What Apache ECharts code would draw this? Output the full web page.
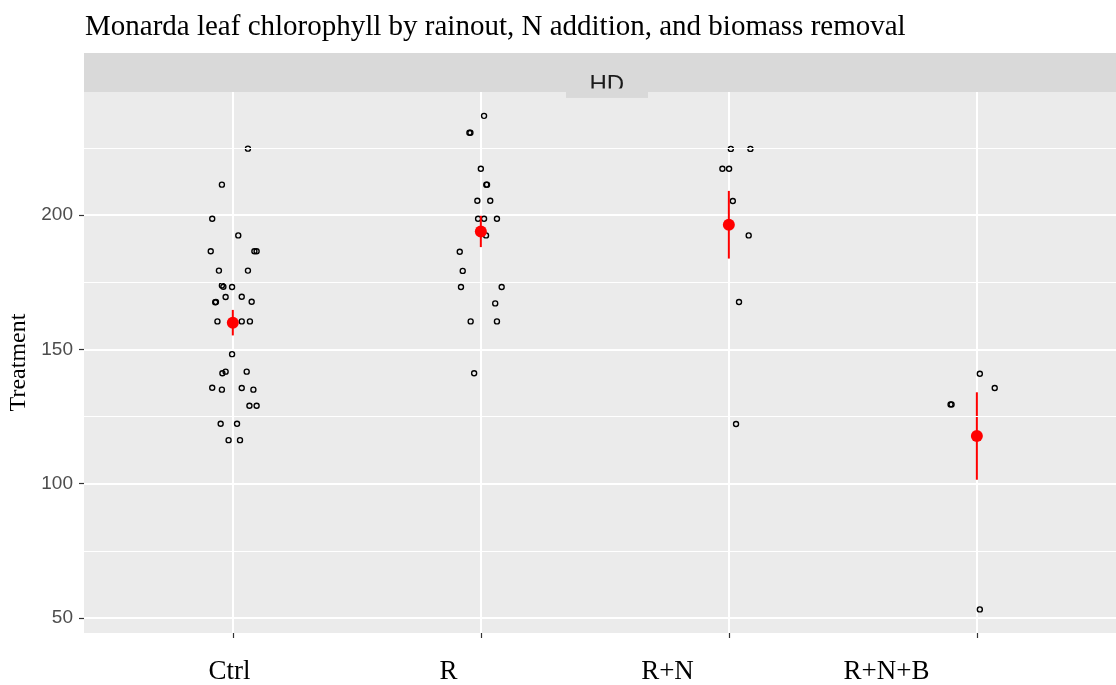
<!DOCTYPE html>
<html>
<head>
<meta charset="utf-8">
<script src="https://cdn.jsdelivr.net/npm/echarts@6/dist/echarts.min.js"></script>
<style>
  html, body { margin: 0; padding: 0; background: #ffffff; }
  #chart { width: 1116px; height: 685px; }
</style>
</head>
<body>
<div id="chart"></div>
<script>
// Treatment groups and axis breaks
const groups = ['Ctrl', 'R', 'R+N', 'R+N+B'];
const facetLabel = 'HD';
const yTicks = [50, 100, 150, 200];
const yMinorBreaks = [75, 125, 175, 225];

// Leaf chlorophyll readings per plant, with the horizontal jitter of each point
const ctrlValues = [224.7, 211.3, 198.6, 192.4, 186.5, 186.5, 186.5, 179.3, 179.3, 173.8, 173.3, 173.2,
  169.5, 169.6, 167.7, 167.5, 167.6, 160.4, 160.4, 160.4, 148.2, 141.1, 141.7, 141.7,
  135.7, 135.0, 135.6, 135.0, 129.0, 129.0, 122.3, 122.3, 116.2, 116.2];
const ctrlJitter = [0.061, -0.044, -0.083, 0.022, -0.089, 0.087, 0.096, -0.056, 0.061, -0.044, -0.038, -0.003,
  -0.029, 0.036, 0.076, -0.071, -0.068, -0.062, 0.036, 0.069, -0.003, -0.042, -0.029, 0.056,
  -0.083, -0.044, 0.036, 0.083, 0.067, 0.096, -0.049, 0.017, -0.017, 0.029];

const rValues = [236.9, 230.6, 230.6, 217.2, 211.3, 211.3, 205.3, 205.3, 198.6, 198.6, 198.6, 192.4,
  186.3, 179.2, 173.2, 173.2, 167.1, 160.4, 160.4, 141.1];
const rJitter = [0.013, -0.046, -0.042, 0.000, 0.022, 0.025, -0.014, 0.038, -0.011, 0.013, 0.065, 0.021,
  -0.085, -0.073, -0.080, 0.084, 0.058, -0.041, 0.065, -0.027];

const rnValues = [224.6, 224.6, 217.2, 217.2, 205.2, 192.4, 167.6, 122.2];
const rnJitter = [0.008, 0.087, -0.026, 0.001, 0.016, 0.080, 0.041, 0.029];

const rnbValues = [140.9, 135.6, 129.5, 129.5, 53.2];
const rnbJitter = [0.012, 0.072, -0.106, -0.102, 0.012];

const groupValues = [ctrlValues, rValues, rnValues, rnbValues];
const groupJitter = [ctrlJitter, rJitter, rnJitter, rnbJitter];

// Scatter points: group position (1..4) plus jitter
const pointData = [];
groupValues.forEach((vals, gi) => {
  vals.forEach((v, k) => pointData.push([gi + 1 + groupJitter[gi][k], v]));
});

// Mean and standard error per group
const summaryData = groupValues.map((vals, gi) => {
  const n = vals.length;
  const mean = vals.reduce((a, b) => a + b, 0) / n;
  const sd = Math.sqrt(vals.reduce((a, b) => a + (b - mean) * (b - mean), 0) / (n - 1));
  return [gi + 1, mean, sd / Math.sqrt(n)];
});

const chart = echarts.init(document.getElementById('chart'), null, { renderer: 'canvas' });

const option = {
  animation: false,
  backgroundColor: '#ffffff',
  title: {
    text: 'Monarda leaf chlorophyll by rainout, N addition, and biomass removal',
    left: 85,
    top: 13,
    padding: 0,
    textStyle: { fontFamily: 'Liberation Serif', fontSize: 29, fontWeight: 'normal', color: '#000000' }
  },
  grid: [
    { left: 84, right: 0, top: 92, bottom: 52, show: true, backgroundColor: '#EBEBEB', borderWidth: 0,
      containLabel: false, outerBoundsMode: 'none' },
    { left: 120, width: 876, top: 92, bottom: 52, show: false, containLabel: false, outerBoundsMode: 'none' }
  ],
  xAxis: [
    {
      type: 'value', gridIndex: 0, min: 0.4, max: 4.561,
      axisLine: { show: false },
      axisTick: { show: true, customValues: groups.map((g, i) => i + 1), length: 5, lineStyle: { color: '#333333', width: 1.2 } },
      axisLabel: { show: false },
      splitLine: { show: true, lineStyle: { color: '#ffffff', width: 2 } }
    },
    {
      type: 'category', gridIndex: 1, data: groups, boundaryGap: true,
      axisLine: { show: false }, axisTick: { show: false }, splitLine: { show: false },
      axisLabel: { fontFamily: 'Liberation Serif', fontSize: 27, color: '#000000', margin: 25 }
    }
  ],
  yAxis: [
    {
      type: 'value', gridIndex: 0, min: 44.42, max: 245.78,
      name: 'Treatment', nameLocation: 'middle', nameGap: 51,
      nameTextStyle: { fontFamily: 'Liberation Serif', fontSize: 24, color: '#000000' },
      axisLine: { show: false },
      axisTick: { show: true, customValues: yTicks, length: 5, lineStyle: { color: '#333333', width: 1.2 } },
      axisLabel: { customValues: yTicks, fontFamily: 'Liberation Sans', fontSize: 19, color: '#4D4D4D', margin: 11 },
      splitLine: { show: true, lineStyle: { color: '#ffffff', width: 2 } }
    },
    { type: 'value', gridIndex: 1, show: false }
  ],
  series: [
    {
      // minor horizontal grid lines
      type: 'scatter', xAxisIndex: 0, yAxisIndex: 0, data: [], z: 1, silent: true,
      markLine: {
        silent: true, symbol: ['none', 'none'], label: { show: false },
        lineStyle: { color: '#ffffff', width: 1, type: 'solid' },
        emphasis: { disabled: true },
        data: yMinorBreaks.map(v => ({ yAxis: v }))
      }
    },
    {
      type: 'scatter', xAxisIndex: 0, yAxisIndex: 0, z: 3, silent: true,
      symbol: 'circle', symbolSize: 5,
      itemStyle: { color: 'rgba(0,0,0,0)', borderColor: '#000000', borderWidth: 1.4, opacity: 1 },
      data: pointData
    },
    {
      type: 'custom', xAxisIndex: 0, yAxisIndex: 0, z: 4, silent: true,
      data: summaryData,
      renderItem: function (params, api) {
        const x = api.value(0), m = api.value(1), se = api.value(2);
        const top = api.coord([x, m + se]);
        const bot = api.coord([x, m - se]);
        const mid = api.coord([x, m]);
        return {
          type: 'group',
          children: [
            { type: 'line', shape: { x1: top[0], y1: top[1], x2: bot[0], y2: bot[1] }, style: { stroke: '#FF0000', lineWidth: 2 } },
            { type: 'circle', shape: { cx: mid[0], cy: mid[1], r: 6 }, style: { fill: '#FF0000' } }
          ]
        };
      }
    }
  ],
  graphic: [
    { type: 'rect', z: 100, shape: { x: 84, y: 53, width: 1032, height: 39 }, style: { fill: '#D9D9D9' } },
    { type: 'rect', z: 100, shape: { x: 566, y: 53, width: 82, height: 44.7 }, style: { fill: '#D9D9D9' } },
    { type: 'text', z: 101, x: 606.8, y: 73.5,
      style: { text: facetLabel, font: '24px "Liberation Sans"', fill: '#1A1A1A', textAlign: 'center', textVerticalAlign: 'top' } },
    { type: 'rect', z: 102, shape: { x: 566, y: 88.6, width: 82, height: 9.1 }, style: { fill: '#D9D9D9' } }
  ]
};

chart.setOption(option);
</script>
</body>
</html>
